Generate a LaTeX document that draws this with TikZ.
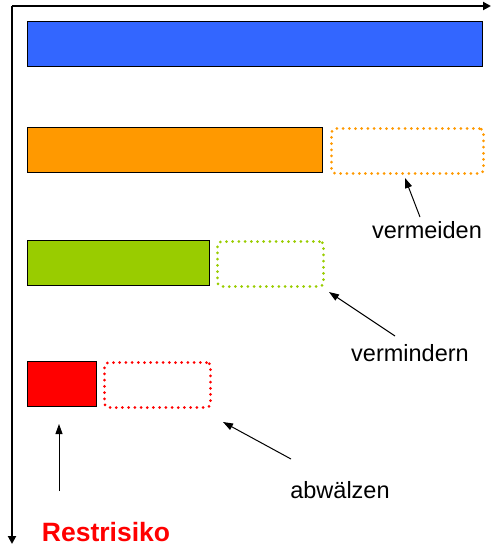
\documentclass[tikz,border=0pt]{standalone}
\usepackage{fontspec}
\setmainfont{Liberation Sans}
\usetikzlibrary{arrows.meta}
\definecolor{cblue}{HTML}{3366FF}
\definecolor{corange}{HTML}{FF9900}
\definecolor{cgreen}{HTML}{99CC00}
\definecolor{cred}{HTML}{FF0000}
\begin{document}
\begin{tikzpicture}[x=1pt,y=-1pt,
  bar/.style={draw=black,line width=1pt,inner sep=0pt,anchor=north west},
  dotbox/.style={draw=#1,line width=3pt,dash pattern=on 0pt off 6.2pt,line cap=round,rounded corners=4pt,inner sep=0pt,anchor=north west},
  axis/.style={line width=2.8pt,-{Triangle[length=8pt,width=8pt]}},
  pointer/.style={line width=1pt,-{Triangle[length=10pt,width=7pt]}},
  lbl/.style={font=\fontsize{23.5}{27}\selectfont,inner sep=0pt}]
\useasboundingbox (0,0) rectangle (492,547);
% axes
\coordinate (o) at (12,6);
\coordinate (xend) at (491,6);
\coordinate (yend) at (12,544);
\draw[axis] (o) -- (xend);
\draw[axis] (o) -- (yend);
% bars
\node[bar,fill=cblue,minimum width=455pt,minimum height=45pt] (b1) at (27,21) {};
\node[bar,fill=corange,minimum width=295pt,minimum height=45pt] (b2) at (27,127) {};
\node[dotbox=corange,minimum width=152pt,minimum height=45pt] (d2) at (330,127) {};
\node[bar,fill=cgreen,minimum width=182pt,minimum height=45pt] (b3) at (27,240) {};
\node[dotbox=cgreen,minimum width=106pt,minimum height=45pt] (d3) at (216,240) {};
\node[bar,fill=cred,minimum width=69pt,minimum height=45pt] (b4) at (27,361) {};
\node[dotbox=cred,minimum width=106pt,minimum height=45pt] (d4) at (103,361) {};
% labels
\node[lbl] (t1) at (427,230) {vermeiden};
\node[lbl] (t2) at (410,353) {vermindern};
\node[lbl] (t3) at (340,490) {abwälzen};
\node[lbl,text=cred,font=\fontsize{26.5}{30}\selectfont\bfseries] (t4) at (106,532) {Restrisiko};
% pointers
\coordinate (p1s) at (420,217);
\coordinate (p1e) at (405,178);
\coordinate (p2s) at (395,336);
\coordinate (p2e) at (329,292);
\coordinate (p3s) at (291,459);
\coordinate (p3e) at (223,422);
\coordinate (p4s) at (59,491);
\coordinate (p4e) at (59,424);
\draw[pointer] (p1s) -- (p1e);
\draw[pointer] (p2s) -- (p2e);
\draw[pointer] (p3s) -- (p3e);
\draw[pointer] (p4s) -- (p4e);
\end{tikzpicture}
\end{document}
